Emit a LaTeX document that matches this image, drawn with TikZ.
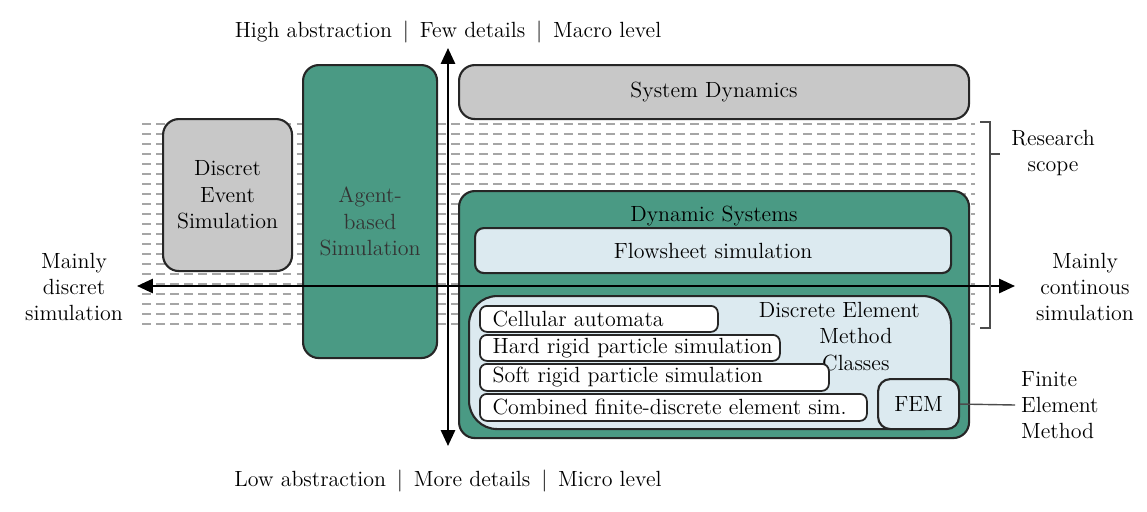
\documentclass[tikz,border=0pt]{standalone}
\usetikzlibrary{arrows.meta}
\definecolor{teal1}{HTML}{4A9A84}
\definecolor{greyb}{HTML}{C8C8C8}
\definecolor{lblue}{HTML}{DCEAF0}
\begin{document}
\begin{tikzpicture}[x=0.2mm,y=-0.2mm,
  txt/.style={font=\fontsize{12.5}{15}\selectfont, align=center},
  box/.style={draw=black!85, line width=1.2pt, rounded corners=9pt, anchor=north west, inner sep=0pt},
  grey/.style={box, fill=greyb},
  dark/.style={box, fill=teal1},
  light/.style={box, fill=lblue},
  white/.style={box, fill=white, rounded corners=4pt, line width=1pt},
  axis/.style={line width=1.3pt, {Triangle[length=9pt,width=8pt]}-{Triangle[length=9pt,width=8pt]}}]
\useasboundingbox (0,0) rectangle (1147,511);
% research scope band
\foreach \yy in {124,134,...,324}
  \draw[gray!70, line width=0.9pt, dash pattern=on 5pt off 3pt] (142,\yy) -- (975,\yy);
% boxes
\node[grey, minimum width=129*0.2mm, minimum height=152*0.2mm] (des) at (162,118) {};
\node[txt] at (des.center) {Discret\\Event\\Simulation};
\node[dark, minimum width=134*0.2mm, minimum height=293*0.2mm] (abs) at (302,64) {};
\node[txt, text=black!80] at ([yshift=-2mm]abs.center) {Agent-\\based\\Simulation};
\node[grey, minimum width=510*0.2mm, minimum height=54*0.2mm] (sd) at (458,64) {};
\node[txt] at (sd.center) {System Dynamics};
\node[dark, minimum width=510*0.2mm, minimum height=247*0.2mm] (ds) at (458,190) {};
\node[txt, anchor=north] (dst) at ([yshift=-2mm]ds.north) {Dynamic Systems};
\node[light, rounded corners=5pt, minimum width=476*0.2mm, minimum height=45*0.2mm] (fs) at (474,227) {};
\node[txt] at (fs.center) {Flowsheet simulation};
\node[light, rounded corners=16pt, minimum width=482*0.2mm, minimum height=133*0.2mm] (dem) at (468,295) {};
\node[txt, anchor=north east] (demt) at (926,296) {Discrete Element\\\hspace*{1.5em}Method\\\hspace*{1.5em}Classes};
\node[white, minimum width=238*0.2mm, minimum height=26*0.2mm] (ca) at (479,305) {};
\node[txt, anchor=west] at ([xshift=1.5mm]ca.west) {Cellular automata};
\node[white, minimum width=300*0.2mm, minimum height=26*0.2mm] (hr) at (479,334) {};
\node[txt, anchor=west] at ([xshift=1.5mm]hr.west) {Hard rigid particle simulation};
\node[white, minimum width=349*0.2mm, minimum height=27*0.2mm] (sr) at (479,363) {};
\node[txt, anchor=west] at ([xshift=1.5mm]sr.west) {Soft rigid particle simulation};
\node[white, minimum width=387*0.2mm, minimum height=27*0.2mm] (cf) at (479,393) {};
\node[txt, anchor=west] at ([xshift=1.5mm]cf.west) {Combined finite-discrete element sim.};
\node[light, rounded corners=7pt, minimum width=81*0.2mm, minimum height=50*0.2mm] (fem) at (877,378) {};
\node[txt] at (fem.center) {FEM};
% axes
\coordinate (xl) at (137,286);
\coordinate (xr) at (1015,286);
\coordinate (yt) at (448,48);
\coordinate (yb) at (448,446);
\draw[axis] (xl) -- (xr);
\draw[axis] (yb) -- (yt);
% labels
\node[txt] (top) at (448,32) {High abstraction \,|\, Few details \,|\, Macro level};
\node[txt] (bot) at (448,481) {Low abstraction \,|\, More details \,|\, Micro level};
\node[txt] (ml) at (74,287) {Mainly\\discret\\simulation};
\node[txt] (mr) at (1085,287) {Mainly\\continous\\simulation};
\node[txt] (rs) at (1053,153) {Research\\scope};
\node[txt, align=left, anchor=west] (fe) at (1015,405) {Finite\\Element\\Method};
% bracket and FEM leader
\coordinate (b1) at (980,122);
\coordinate (b2) at (980,328);
\draw[line width=0.8pt, black!70] (b1) -- ++(10,0) coordinate (bt) -- (990,328) -- (b2);
\draw[line width=0.8pt, black!70] (990,154) -- (1000,154);
\draw[line width=0.8pt, black!70] (fem.east) -- (fe.west);
\end{tikzpicture}
\end{document}
